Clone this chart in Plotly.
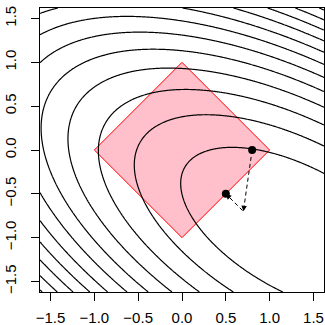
import numpy as np
import plotly.graph_objects as go

# quadratic loss: F = a x^2 + b xy + d y^2 + e x + g y + c
quad_a, quad_b, quad_d = 0.8600, 1.3813, 1.7397
quad_e, quad_g, quad_c = -1.0254, 1.3507, 1.2386
contour_levels = (1, 40, 1)          # start, end, step

# L1 ball
diamond_x = [0, 1, 0, -1]
diamond_y = [1, 0, -1, 0]

# iterates: start, gradient step, soft-threshold
path_x = [0.8, 0.7, 0.5]
path_y = [0.0, -0.7, -0.5]
dot_x = [0.8, 0.5]
dot_y = [0.0, -0.5]

tick_vals = [-1.5, -1.0, -0.5, 0.0, 0.5, 1.0, 1.5]
tick_text = ["\u22121.5", "\u22121.0", "\u22120.5", "0.0", "0.5", "1.0", "1.5"]
axis_range = [-1.62, 1.62]

gx = np.linspace(axis_range[0], axis_range[1], 301)
GX, GY = np.meshgrid(gx, gx)
Z = (quad_a * GX**2 + quad_b * GX * GY + quad_d * GY**2
     + quad_e * GX + quad_g * GY + quad_c)

fig = go.Figure()
fig.add_trace(go.Contour(
    x=gx, y=gx, z=Z,
    contours=dict(coloring='lines', start=contour_levels[0], end=contour_levels[1],
                  size=contour_levels[2], showlabels=False),
    colorscale=[[0, 'black'], [1, 'black']], showscale=False,
    line=dict(width=1.2), hoverinfo='skip'))

path = "M " + " L ".join(f"{x},{y}" for x, y in zip(diamond_x, diamond_y)) + " Z"
fig.add_shape(type='path', path=path, xref='x', yref='y', layer='below',
              fillcolor='#FFC0CB', line=dict(color='red', width=1))

fig.add_trace(go.Scatter(x=path_x, y=path_y, mode='lines',
                         line=dict(color='black', width=1, dash='4px,3px'),
                         hoverinfo='skip'))

# arrowheads at the end of each dashed segment
for i in range(len(path_x) - 1):
    x0, y0, x1, y1 = path_x[i], path_y[i], path_x[i + 1], path_y[i + 1]
    L = np.hypot(x1 - x0, y1 - y0)
    ux, uy = (x1 - x0) / L, (y1 - y0) / L
    fig.add_annotation(x=x1, y=y1, ax=x1 - 0.06 * ux, ay=y1 - 0.06 * uy,
                       xref='x', yref='y', axref='x', ayref='y', text='',
                       showarrow=True, arrowhead=2, arrowsize=1.0, arrowwidth=1.1,
                       arrowcolor='black', standoff=0)

fig.add_trace(go.Scatter(x=dot_x, y=dot_y, mode='markers',
                         marker=dict(color='black', size=8), hoverinfo='skip'))

axis_common = dict(range=axis_range, tickvals=tick_vals, ticktext=tick_text,
                   ticks='outside', ticklen=8, tickwidth=1, tickcolor='black',
                   showline=True, linecolor='black', linewidth=1, mirror=True,
                   showgrid=False, zeroline=False, automargin=False,
                   tickfont=dict(family='Liberation Sans, Arial, sans-serif', size=15, color='black'))
fig.update_layout(
    width=325, height=325, margin=dict(l=40, r=1, t=8, b=33, autoexpand=False),
    showlegend=False, plot_bgcolor='white', paper_bgcolor='white',
    xaxis=dict(**axis_common, ticklabelstandoff=4),
    yaxis=dict(**axis_common, tickangle=-90, ticklabelstandoff=9),
)
fig.write_html("out.html", config={'displayModeBar': False},
               post_script="document.body.style.margin='0';document.body.style.overflow='hidden';")
